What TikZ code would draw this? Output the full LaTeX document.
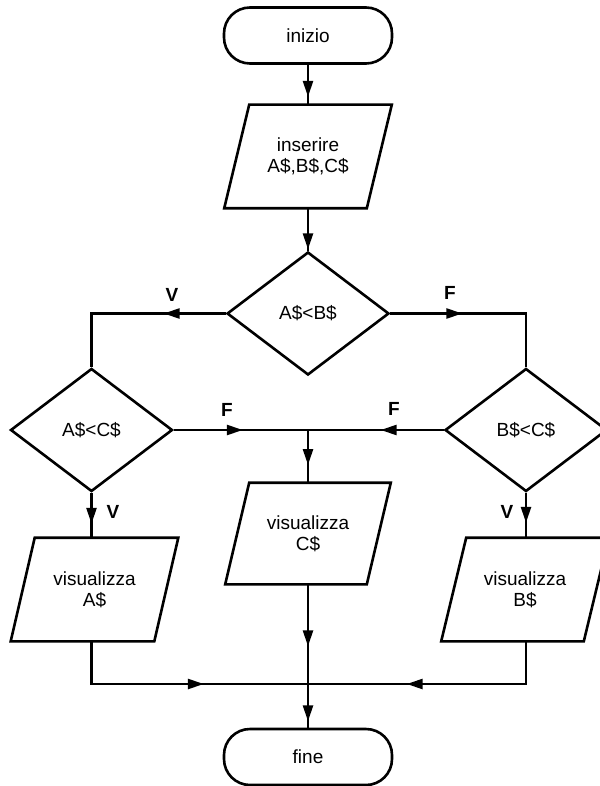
\documentclass[tikz,border=0pt]{standalone}
\usepackage{fontspec}
\setmainfont{Liberation Sans}
\usetikzlibrary{shapes.geometric, arrows.meta, decorations.markings}
\newcommand\bodyfont{\fontsize{19}{21}\selectfont}
\newcommand\lblfont{\fontsize{19}{20}\selectfont\bfseries}
\begin{document}
\begin{tikzpicture}[x=1pt, y=-1pt, line width=2.6pt,
  term/.style={draw, rectangle, rounded corners=26pt, minimum width=168pt,
    minimum height=56pt, inner sep=0pt, font=\bodyfont},
  iobox/.style={minimum width=140pt, minimum height=101pt, inner sep=0pt,
    align=center, font=\bodyfont},
  test/.style={draw, diamond, minimum width=162pt, minimum height=123pt,
    inner sep=0pt, font=\bodyfont},
  lbl/.style={font=\lblfont, inner sep=0pt},
  midtip/.style={postaction={decorate, decoration={markings,
    mark=at position #1 with {\arrow{Triangle[length=16pt,width=10pt]}}}}}]
\useasboundingbox (0,0) rectangle (599,786);

% terminals
\node[term] (start) at (308,35.5) {inizio};
\node[term] (fine) at (308,757) {fine};

% input / output boxes (parallelograms drawn below)
\node[iobox] (inp) at (308,156.5) {inserire\\A\$,B\$,C\$};
\node[iobox, minimum width=141pt] (outa) at (94.5,589.5) {visualizza\\A\$};
\node[iobox, minimum width=139pt, minimum height=99pt] (outc) at (308,533.5) {visualizza\\C\$};
\node[iobox] (outb) at (525,589.5) {visualizza\\B\$};

\foreach \n/\s in {inp/12.5, outa/12, outc/12, outb/12.5}
  \draw ([xshift=\s pt]\n.north west) -- ([xshift=\s pt]\n.north east)
    -- ([xshift=-\s pt]\n.south east) -- ([xshift=-\s pt]\n.south west) -- cycle;

% decisions
\node[test] (d1) at (308,313.5) {A\$<B\$};
\node[test] (d2) at (91.5,430) {A\$<C\$};
\node[test] (d3) at (526,430) {B\$<C\$};

% junctions
\coordinate (J) at (d1 |- d2);
\coordinate (M) at (308,684);

% connectors
\draw[midtip=32pt] (start) -- (inp);
\draw[midtip=41pt] (inp) -- (d1);
\draw[midtip=62pt] (d1.west) -| (d2.north);
\draw[midtip=72pt] (d1.east) -| (d3.north);
\draw[midtip=69pt] (d2.east) -- (J);
\draw[midtip=63pt] (d3.west) -- (J);
\draw[midtip=35pt] (J) -- (outc);
\draw[midtip=31pt] (d2.south) -- (d2.south |- outa.north);
\draw[midtip=30pt] (d3.south) -- (d3.south |- outb.north);
\draw[midtip=155pt] (d2.south |- outa.south) |- (M);
\draw[midtip=162pt] (d3.south |- outb.south) |- (M);
\draw[midtip=62pt, midtip=137pt] (outc) -- (fine);

% branch labels
\node[lbl] (vab) at (172,295) {V};
\node[lbl] (fab) at (450,293) {F};
\node[lbl] (fac) at (227,410) {F};
\node[lbl] (fbc) at (394,409) {F};
\node[lbl] (vac) at (113,512) {V};
\node[lbl] (vbc) at (507,512) {V};
\end{tikzpicture}
\end{document}
